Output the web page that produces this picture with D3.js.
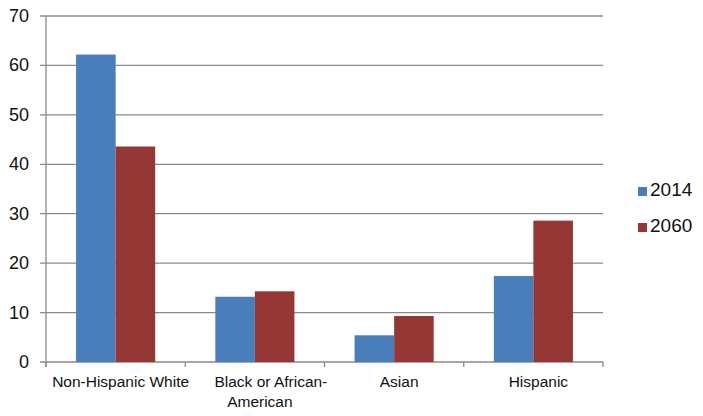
<!DOCTYPE html>
<html>
<head>
<meta charset="utf-8">
<script src="https://cdn.jsdelivr.net/npm/d3@7"></script>
<style>
  body { margin: 0; background: #fff; }
  text { font-family: "Liberation Sans", Arial, Helvetica, sans-serif; fill: #111; }
</style>
</head>
<body>
<div id="chart"></div>
<script>
const categories = ["Non-Hispanic White", "Black or African-American", "Asian", "Hispanic"];
const categoryLines = [["Non-Hispanic White"], ["Black or African-", "American"], ["Asian"], ["Hispanic"]];
const series = ["2014", "2060"];
const values2014 = [62.2, 13.2, 5.4, 17.4];
const values2060 = [43.6, 14.3, 9.3, 28.6];
const yTicks = [0, 10, 20, 30, 40, 50, 60, 70];
const colors = ["#4a7ebb", "#953735"];

const width = 703, height = 416;
const margin = {left: 46, right: 100, top: 16, bottom: 54};

const svg = d3.select("#chart").append("svg")
    .attr("width", width)
    .attr("height", height);

const x = d3.scaleBand()
    .domain(categories)
    .range([margin.left, width - margin.right])
    .paddingInner(0)
    .paddingOuter(0);

const xs = d3.scaleBand()
    .domain(series)
    .range([0, x.bandwidth()])
    .paddingInner(0)
    .paddingOuter(0.76);

const y = d3.scaleLinear()
    .domain([0, 70])
    .range([height - margin.bottom, margin.top]);

const grey = "#8a8a8a";

// gridlines with little ticks on the left
svg.append("g")
    .selectAll("line")
    .data(yTicks)
    .join("line")
    .attr("x1", margin.left - 6)
    .attr("x2", width - margin.right)
    .attr("y1", d => y(d))
    .attr("y2", d => y(d))
    .attr("stroke", grey)
    .attr("stroke-width", 1.3);

svg.append("g")
    .selectAll("text")
    .data(yTicks)
    .join("text")
    .attr("x", margin.left - 17)
    .attr("y", d => y(d) + 6)
    .attr("text-anchor", "end")
    .style("font-size", "18px")
    .text(d => d);

// vertical axis line
svg.append("line")
    .attr("x1", margin.left).attr("x2", margin.left)
    .attr("y1", y(70)).attr("y2", y(0) + 5)
    .attr("stroke", grey)
    .attr("stroke-width", 1.3);

// category boundary ticks
const bounds = categories.map(c => x(c) + x.bandwidth()).concat([x(categories[0])]);
svg.append("g")
    .selectAll("line")
    .data(bounds)
    .join("line")
    .attr("x1", d => d).attr("x2", d => d)
    .attr("y1", y(0)).attr("y2", y(0) + 5)
    .attr("stroke", grey)
    .attr("stroke-width", 1.3);

const rows = categories.map((c, i) => ({cat: c, vals: [values2014[i], values2060[i]]}));

const groups = svg.append("g")
    .selectAll("g")
    .data(rows)
    .join("g")
    .attr("transform", d => `translate(${x(d.cat)},0)`);

groups.selectAll("rect")
    .data(d => d.vals.map((v, j) => ({s: series[j], v: v, j: j})))
    .join("rect")
    .attr("x", d => xs(d.s))
    .attr("width", xs.bandwidth())
    .attr("y", d => y(d.v))
    .attr("height", d => y(0) - y(d.v))
    .attr("fill", d => colors[d.j]);

// x labels
const lab = svg.append("g")
    .selectAll("text")
    .data(categories)
    .join("text")
    .attr("text-anchor", "middle")
    .style("font-size", "15.5px");

lab.each(function(c, i) {
    const lines = categoryLines[i];
    const cx = x(c) + x.bandwidth() / 2 + 5;
    d3.select(this).selectAll("tspan")
        .data(lines)
        .join("tspan")
        .attr("x", (d, k) => lines.length > 1 && k === 0 ? cx + 11 : cx)
        .attr("y", (d, k) => y(0) + 25 + k * 20)
        .text(d => d);
});

// legend
const leg = svg.append("g")
    .selectAll("g")
    .data(series)
    .join("g")
    .attr("transform", (d, i) => `translate(638,${187 + i * 36})`);

leg.append("rect")
    .attr("width", 9)
    .attr("height", 9)
    .attr("fill", (d, i) => colors[i]);

leg.append("text")
    .attr("x", 12)
    .attr("y", 9)
    .style("font-size", "19px")
    .text(d => d);
</script>
</body>
</html>
